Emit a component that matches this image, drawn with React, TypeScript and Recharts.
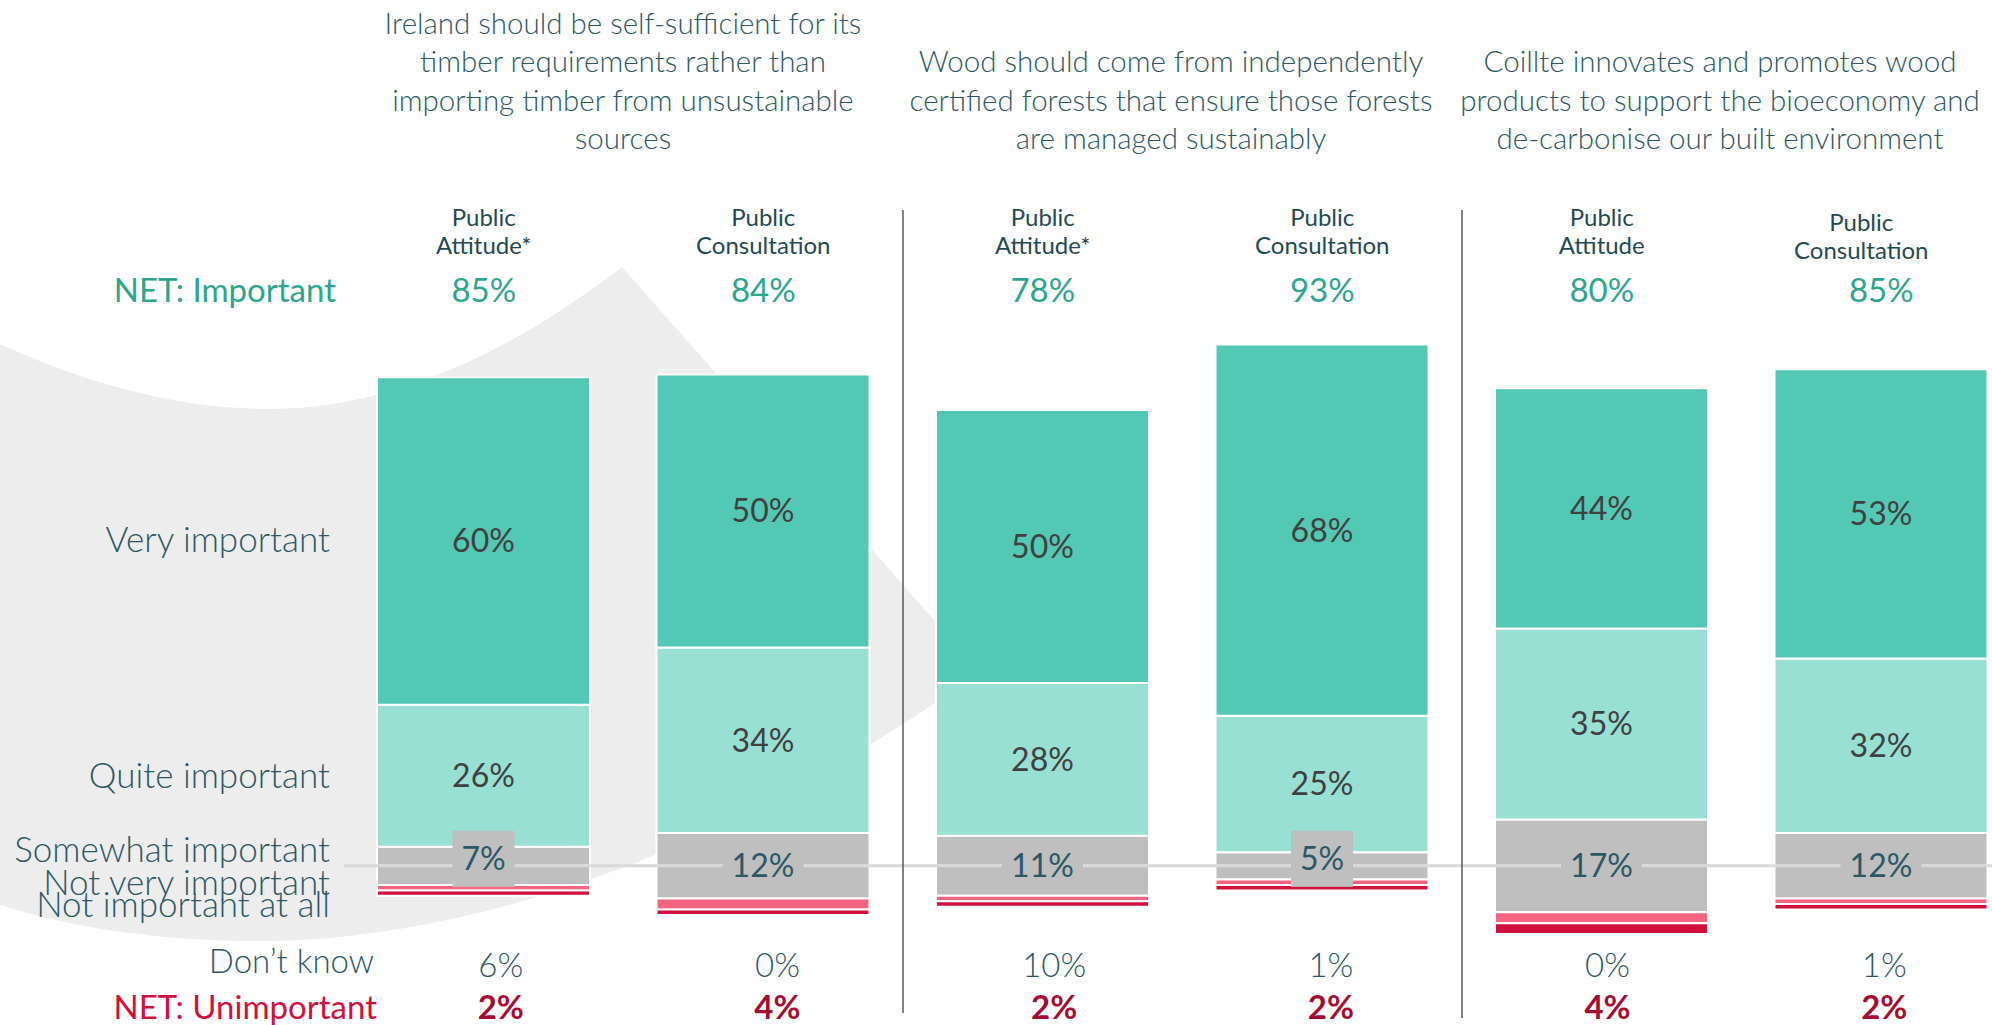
import React from 'react';
import { BarChart, Bar, XAxis, YAxis, ReferenceLine, LabelList } from 'recharts';

// survey groups (one column per group)
const keys = ['q1-attitude', 'q1-consultation', 'q2-attitude', 'q2-consultation', 'q3-attitude', 'q3-consultation'];
const groups = [
  ['Public', 'Attitude*'],
  ['Public', 'Consultation'],
  ['Public', 'Attitude*'],
  ['Public', 'Consultation'],
  ['Public', 'Attitude'],
  ['Public', 'Consultation'],
];
const questions = [
  ['Ireland should be self-sufficient for its', 'timber requirements rather than', 'importing timber from unsustainable', 'sources'],
  ['Wood should come from independently', 'certified forests that ensure those forests', 'are managed sustainably'],
  ['Coillte innovates and promotes wood', 'products to support the bioeconomy and', 'de-carbonise our built environment'],
];
const rowLabels = ['Very important', 'Quite important', 'Somewhat important', 'Not very important', 'Not important at all'];

const very = [60, 50, 50, 68, 44, 53];
const quite = [26, 34, 28, 25, 35, 32];
const somewhat = [7, 12, 11, 5, 17, 12];
const notVery = [1, 2, 1, 1, 2, 1];
const notAtAll = [1, 1, 1, 1, 2, 1];
const netImportant = [85, 84, 78, 93, 80, 85];
const dontKnow = [6, 0, 10, 1, 0, 1];
const netUnimportant = [2, 4, 2, 2, 4, 2];

const chartData = keys.map((key, i) => ({
  key,
  somewhatUp: somewhat[i] / 2,
  somewhatDown: -somewhat[i] / 2,
  quite: quite[i],
  very: very[i],
  notVery: -notVery[i],
  notAtAll: -notAtAll[i],
  somewhatRange: [-somewhat[i] / 2, somewhat[i] / 2],
}));

const FONT = 'Lato, "Open Sans", sans-serif';
const TEXT = '#2c5865';
const SUB = '#1f4a56';
const TEAL_TEXT = '#2ea58e';
const VERY = '#53c8b4';
const QUITE = '#99e0d4';
const GREY = '#bfbfbf';
const PINK = '#f4637f';
const RED = '#d10f3c';

const TopTick = (props: any) => {
  const { x, payload } = props;
  const i = keys.indexOf(payload.value);
  const dx = i === 5 ? -20 : 0;
  const dy = i === 5 ? 5 : 0;
  return (
    <g fontFamily={FONT} textAnchor="middle">
      <text x={x + dx} y={226 + dy} fontSize={24} fill={SUB}>{groups[i][0]}</text>
      <text x={x + dx} y={254 + dy} fontSize={24} fill={SUB}>{groups[i][1]}</text>
      <text x={x} y={302} fontSize={33} fill={TEAL_TEXT}>{netImportant[i]}%</text>
    </g>
  );
};

const BottomTick = (props: any) => {
  const { x, payload } = props;
  const i = keys.indexOf(payload.value);
  const dx = 17 - i * 2.8;
  return (
    <g fontFamily={FONT} textAnchor="middle" fontSize={33}>
      <text x={x + dx} y={977} fill={TEXT} fontWeight={300}>{dontKnow[i]}%</text>
      <text x={x + dx} y={1019} fill="#a30d32" fontWeight={700}>{netUnimportant[i]}%</text>
    </g>
  );
};

const SomewhatLabel = (props: any) => {
  const { x, y, width, height, index } = props;
  const v = somewhat[index];
  const cx = x + width / 2;
  const cy = y + height / 2 + (v < 10 ? -7 : 0);
  const w = 43 + 19 * String(v).length;
  return (
    <g>
      <rect x={cx - w / 2} y={cy - 28} width={w} height={56} fill={GREY} />
      <text x={cx} y={cy + 11} textAnchor="middle" fontSize={32} fontFamily={FONT} fill={TEXT}>{v}%</text>
    </g>
  );
};

const segLabel = { position: 'center' as const, fill: '#404040', fontSize: 32, fontFamily: FONT, formatter: (v: any) => `${v}%` };

export default function App() {
  const baselines = [552, 788, 862, 895, 917];
  return (
    <div style={{ position: 'absolute', left: 0, top: 0, width: 1992, height: 1025, overflow: 'hidden', background: '#fff' }}>
      <svg width={1992} height={1025} style={{ position: 'absolute', left: 0, top: 0 }}>
        <path
          d="M0,344 C90,385 180,409 270,409 C400,409 520,345 622,267 L980,672 C800,800 560,925 300,940 C180,945 80,930 0,905 Z"
          fill="#ededed"
        />
      </svg>
      <div style={{ position: 'absolute', left: 0, top: 0 }}>
        <BarChart width={2021} height={1025} data={chartData} stackOffset="sign" barSize={213}
          margin={{ top: 290, right: 0, bottom: 0, left: 344 }}>
          <XAxis xAxisId="main" dataKey="key" height={50} axisLine={false} tickLine={false} interval={0}
            tick={(p: any) => <BottomTick {...p} />} />
          <XAxis xAxisId="top" dataKey="key" orientation="top" height={30} axisLine={false} tickLine={false} interval={0}
            tick={(p: any) => <TopTick {...p} />} />
          <YAxis hide domain={[-20, 100]} allowDataOverflow />
          <Bar xAxisId="main" dataKey="somewhatUp" stackId="s" fill={GREY} stroke="#fff" strokeWidth={2} isAnimationActive={false} />
          <Bar xAxisId="main" dataKey="somewhatDown" stackId="s" fill={GREY} stroke="#fff" strokeWidth={2} isAnimationActive={false} />
          <Bar xAxisId="main" dataKey="quite" stackId="s" fill={QUITE} stroke="#fff" strokeWidth={2} isAnimationActive={false}>
            <LabelList dataKey="quite" {...segLabel} />
          </Bar>
          <Bar xAxisId="main" dataKey="notVery" stackId="s" fill={PINK} stroke="#fff" strokeWidth={2} isAnimationActive={false} />
          <Bar xAxisId="main" dataKey="very" stackId="s" fill={VERY} stroke="#fff" strokeWidth={2} isAnimationActive={false}>
            <LabelList dataKey="very" {...segLabel} />
          </Bar>
          <Bar xAxisId="main" dataKey="notAtAll" stackId="s" fill={RED} stroke="#fff" strokeWidth={2} isAnimationActive={false} />
          <ReferenceLine xAxisId="main" y={0} stroke="#d9d9d9" strokeWidth={3} />
          <Bar xAxisId="top" dataKey="somewhatRange" fill="none" isAnimationActive={false}>
            <LabelList dataKey="somewhatRange" content={(p: any) => <SomewhatLabel {...p} />} />
          </Bar>
        </BarChart>
      </div>
      <svg width={1992} height={1025} style={{ position: 'absolute', left: 0, top: 0, pointerEvents: 'none' }} fontFamily={FONT}>
        <line x1={903} y1={210} x2={903} y2={1013} stroke="#595959" strokeWidth={1.5} />
        <line x1={1462} y1={210} x2={1462} y2={1018} stroke="#595959" strokeWidth={1.5} />
        {questions.map((lines, q) => {
          const cx = [623, 1171, 1720][q];
          const first = q === 0 ? 0 : 1;
          return lines.map((line, j) => (
            <text key={`${q}-${j}`} x={cx} y={34 + 38.3 * (first + j)} textAnchor="middle" fontSize={29.5} fontWeight={300} fill={TEXT}>
              {line}
            </text>
          ));
        })}
        <text x={336} y={302} textAnchor="end" fontSize={33} fill={TEAL_TEXT}>NET: Important</text>
        {rowLabels.map((label, i) => (
          <text key={label} x={330} y={baselines[i]} textAnchor="end" fontSize={35} fontWeight={300} fill={TEXT}>{label}</text>
        ))}
        <text x={374} y={973} textAnchor="end" fontSize={33} fontWeight={300} fill={TEXT}>Don’t know</text>
        <text x={377} y={1019} textAnchor="end" fontSize={33} fill="#d0103d">NET: Unimportant</text>
      </svg>
    </div>
  );
}
